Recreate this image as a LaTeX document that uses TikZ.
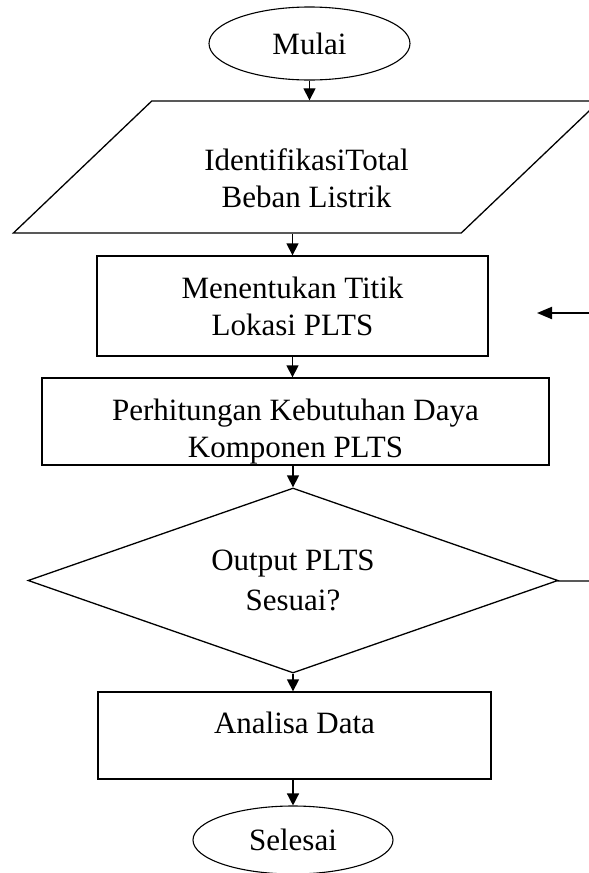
\documentclass[tikz,border=0pt]{standalone}
\usepackage{fontspec}
\setmainfont{Liberation Serif}
\usetikzlibrary{shapes.geometric,arrows.meta}

\begin{document}
\begin{tikzpicture}[x=1pt,y=-1pt,font=\fontsize{31}{37}\selectfont,
  box/.style={draw,line width=1.3pt,inner sep=0pt,align=center},
  oval/.style={draw,ellipse,line width=1.1pt,inner sep=0pt},
  flow/.style={-{Triangle[length=12pt,width=12pt]},line width=1.3pt}]
  \useasboundingbox (0,0) rectangle (589,873);
  \clip (0,0) rectangle (589,873);
  \node[oval,minimum width=201,minimum height=73] (0) at (309.5,43.5) {Mulai};
  \node[box,trapezium,trapezium left angle=42,trapezium right angle=138,
    trapezium stretches=true,minimum width=587,minimum height=132] (1) at (306.5,167)
    {\rule{0pt}{45pt}IdentifikasiTotal\\Beban Listrik};
  \node[box,minimum width=391,minimum height=100] (2) at (292.5,306) {Menentukan Titik\\Lokasi PLTS};
  \node[box,minimum width=507,minimum height=87] (3) at (295.5,421.5)
    {\rule{0pt}{41pt}Perhitungan Kebutuhan Daya\\Komponen PLTS};
  \node[box,diamond,aspect=2.9,minimum width=530,minimum height=185] (4) at (293,580.5)
    {Output PLTS\\[3pt]Sesuai?};
  \node[box,minimum width=393,minimum height=87,text depth=26pt] (5) at (294.5,735.5) {Analisa Data};
  \node[oval,minimum width=200,minimum height=68] (6) at (293,840) {Selesai};
  \coordinate (7) at (595,313);
  \coordinate (8) at (537,313);
  \coordinate (9) at (595,581);
  \draw[flow] (0) -- (0 |- 1.north);
  \draw[flow] (2 |- 1.south) -- (2);
  \draw[flow] (2) -- (2 |- 3.north);
  \draw[flow] (4 |- 3.south) -- (4);
  \draw[flow] (4) -- (4 |- 5.north);
  \draw[flow] (6 |- 5.south) -- (6);
  \draw[line width=2pt,-{Triangle[length=15pt,width=12pt]}] (7) -- (8);
  \draw[line width=1.3pt] (4) -- (9);
\end{tikzpicture}
\end{document}
